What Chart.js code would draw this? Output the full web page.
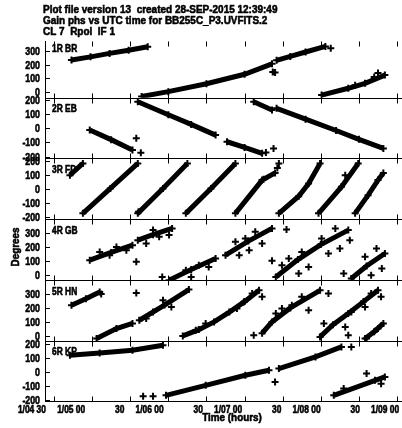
<!DOCTYPE html>
<html>
<head>
<meta charset="utf-8">
<script src="https://cdn.jsdelivr.net/npm/chart.js@4.4.1/dist/chart.umd.min.js"></script>
<style>
html, body { margin: 0; padding: 0; background: #fff; overflow: hidden; }
#wrap { width: 412px; height: 428px; }
</style>
</head>
<body>
<div id="wrap"><canvas id="chart" width="412" height="428"></canvas></div>
<script>
// gain phase (deg) against UTC time (hours of day 1), one panel per antenna
// streaks are runs of solutions, null breaks a run; the *X arrays are stray points

const tBR  = [4.73, 4.98, 5.23, 5.48, 5.73, null, 5.65, 6.0, 6.5, 7.0, 7.36, null, 7.37, 7.40, null, 7.42, 7.6, 7.8, 8.06, null, 8.01, 8.36, 8.58, 8.84];
const pBR  = [232, 255, 280, 303, 328, null, -30, 5, 62, 130, 205, null, 146, 142, null, 230, 258, 290, 330, null, -20, 29, 65, 124];
const tBRX = [8.13, 8.75, 8.70, 8.45];
const pBRX = [317, 139, 110, 50];

const tEB  = [4.97, 5.25, 5.53, null, 5.60, 6.0, 6.3, 6.62, null, 6.77, 7.0, 7.23, null, 7.12, 7.36, null, 7.42, 7.8, 8.2, 8.5, 8.82];
const pEB  = [-12, -80, -154, null, 189, 96, 28, -48, null, -95, -135, -177, null, 189, 130, null, 142, 65, -15, -78, -142];
const tEBX = [5.58, 5.64, 7.28, 7.38];
const pEBX = [-71, -173, -172, -142];

const tFD  = [4.71, 4.88, null, 4.88, 5.24, 5.60, null, 5.60, 5.93, 6.25, null, 6.23, 6.56, 6.88, null, 6.88, 7.23, null, 7.25, 7.40, null, 7.45, 7.71, 7.84, 7.99, null, 7.97, 8.27, 8.49, null, 8.45, 8.62, 8.75, 8.82];
const pFD  = [99, 182, null, -172, 5, 182, null, -172, 5, 182, null, -172, 5, 182, null, -172, 64, null, 70, 115, null, -172, -50, 40, 182, null, -172, 16, 182, null, -172, -43, 64, 115];
const tFDX = [5.61, 7.43, 7.45, 8.32];
const pFDX = [-160, 150, 182, 99];

const tGB  = [4.97, 5.25, 5.53, null, 5.60, 5.80, 6.05, null, 6.01, 6.30, 6.62, null, 6.75, 7.05, 7.36, null, 7.41, 7.70, 8.00, 8.36, null, 8.40, 8.60, 8.84];
const pGB  = [106, 160, 211, null, 246, 285, 329, null, -35, 40, 118, null, 141, 240, 329, null, -12, 110, 215, 317, null, -23, 65, 153];
const tGBX = [5.10, 5.32, 5.23, 5.45, 5.80, 5.88, 6.01, 5.71, 5.58, 5.92, 6.23, 6.40, 6.53, 6.30,
              6.88, 7.01, 7.14, 6.93, 7.06, 7.23, 7.55, 7.36, 7.49, 7.58, 7.71, 7.84, 7.75, 8.01,
              8.10, 8.19, 8.25, 8.38, 8.30, 8.58, 8.73, 8.66, 8.80];
const pGBX = [164, 199, 141, 176, 317, 270, 282, 223, 94, -12, 35, 70, 58, -12,
              235, 258, 305, 141, 176, 223, 322, 101, 70, 118, 12, 58, 164, 258,
              153, 329, 188, 246, 12, 129, 188, 0, 47];

const tHN  = [4.73, 4.92, 5.10, null, 5.06, 5.32, 5.53, null, 5.62, 5.95, 6.27, null, 6.19, 6.40, 6.60, 6.80, 7.00, 7.19, null, 7.23, 7.36, 7.60, 7.99, null, 7.99, 8.16, 8.36, 8.56, 8.75, null, 8.58, 8.70, 8.82];
const pHN  = [219, 265, 314, null, -19, 53, 89, null, 112, 220, 331, null, 0, 45, 100, 170, 245, 326, null, 19, 100, 200, 326, null, -7, 80, 160, 245, 326, null, -19, 30, 89];
const tHNX = [5.12, 5.58, 5.71, 5.80, 5.93, 6.04, 6.36, 6.49, 6.99, 7.10, 7.23, 6.90, 7.12,
              7.41, 7.49, 7.62, 7.75, 7.84, 8.10, 8.32, 8.40, 8.58, 8.66, 8.79, 8.04, 8.36, 8.60, 8.75];
const pHNX = [300, 307, 124, 171, 255, 207, 41, 89, 243, 303, 279, 196, 5,
              160, 196, 219, 279, 184, 303, 64, 171, 207, 303, 279, 89, 5, -19, 53];

const tKP  = [4.71, 5.10, 5.53, 5.93, null, 5.97, 6.49, 7.01, 7.32, null, 7.45, 7.93, 8.27, null, 8.17, 8.84];
const pKP  = [118, 134, 153, 188, null, -164, -94, -23, 12, null, 24, 106, 176, null, -164, -35];
const tKPX = [5.67, 5.80, 7.40, 8.40, 8.60, 8.79, 8.71, 8.30];
const pKPX = [-171, -171, -70, 176, -11, -82, -58, -117];

const panelNames = ['1R BR', '2R EB', '3R FD', '4R GB', '5R HN', '6R KP'];
const panelTimes = [tBR, tEB, tFD, tGB, tHN, tKP];
const panelPhases = [pBR, pEB, pFD, pGB, pHN, pKP];
const strayTimes = [tBRX, tEBX, tFDX, tGBX, tHNX, tKPX];
const strayPhases = [pBRX, pEBX, pFDX, pGBX, pHNX, pKPX];

// plot ranges per panel (deg), tick values and relative panel heights
const panelMin = [-39, -213, -213, -35, -36, -204];
const panelMax = [369, 217, 218, 394, 398, 218];
const upTicks = [0, 100, 200, 300];
const midTicks = [-200, -100, 0, 100, 200];
const panelTicks = [upTicks, midTicks, midTicks, upTicks, upTicks, midTicks];
const panelWeight = [56.7, 60.6, 60.7, 61, 60.7, 60];
const timeTicks = [4.5, 5.0, 5.5, 6.0, 6.5, 7.0, 7.5, 8.0, 8.5, 9.0];

const titleLines = [
  'Plot file version 13  created 28-SEP-2015 12:39:49',
  'Gain phs vs UTC time for BB255C_P3.UVFITS.2',
  'CL 7  Rpol  IF 1'
];

const FONT = '"Liberation Sans", Arial, sans-serif';
const NARROW = 0.8;

const zip = (t, p) => t.map((v, i) => ({ x: v, y: p[i] }));

function timeLabel(h, idx) {
  const day = Math.floor(h / 24) + 1;
  const hh = Math.floor(h % 24 + 1e-6);
  const mm = Math.round((h % 24 - hh) * 60);
  const pad = n => String(n).padStart(2, '0');
  if (idx === 0 || mm === 0) return day + '/' + pad(hh) + ' ' + pad(mm);
  return pad(mm);
}

// heavy helvetica-narrow look: squeeze horizontally and thicken the strokes
function narrowText(ctx, text, x, y, align, size, sx) {
  ctx.save();
  ctx.translate(x, y);
  ctx.scale(sx || NARROW, 1);
  ctx.font = 'bold ' + size + 'px ' + FONT;
  ctx.textAlign = align;
  ctx.lineWidth = 0.6;
  ctx.lineJoin = 'round';
  ctx.fillText(text, 0, 0);
  ctx.strokeText(text, 0, 0);
  ctx.restore();
}

const ids = panelNames.map((_, i) => 'p' + (i + 1));

const datasets = [];
ids.forEach((id, i) => {
  datasets.push({
    label: panelNames[i],
    yAxisID: id,
    data: zip(panelTimes[i], panelPhases[i]),
    showLine: true,
    borderColor: '#000',
    borderWidth: 5,
    pointStyle: 'cross',
    pointRadius: 3.5,
    pointBorderWidth: 2,
    pointBorderColor: '#000',
    spanGaps: false
  });
  datasets.push({
    label: panelNames[i] + ' stray',
    yAxisID: id,
    data: zip(strayTimes[i], strayPhases[i]),
    showLine: false,
    pointStyle: 'cross',
    pointRadius: 3.5,
    pointBorderWidth: 2,
    pointBorderColor: '#000'
  });
});

const scales = {
  x: {
    type: 'linear',
    position: 'bottom',
    min: 4.383,
    max: 9.117,
    afterFit: s => { s.height = 27; },
    afterBuildTicks: s => { s.ticks = timeTicks.map(v => ({ value: v })); },
    grid: { display: false, drawTicks: false },
    border: { display: false },
    ticks: { display: false }
  }
};
// left axes stacked; later-defined axes end up on top
for (let i = ids.length - 1; i >= 0; i--) {
  const tv = panelTicks[i];
  scales[ids[i]] = {
    type: 'linear',
    position: 'left',
    stack: 'panels',
    stackWeight: panelWeight[i],
    min: panelMin[i],
    max: panelMax[i],
    afterFit: s => { s.width = 45; },
    afterBuildTicks: s => { s.ticks = tv.map(v => ({ value: v })); },
    grid: { display: false, drawTicks: false },
    border: { display: true, color: '#000', width: 1 },
    ticks: { display: false }
  };
}

const framePlugin = {
  id: 'frame',
  afterDatasetsDraw(chart) {
    const { ctx, chartArea, scales } = chart;
    const xs = scales.x;
    ctx.save();
    ctx.strokeStyle = '#000';
    ctx.fillStyle = '#000';
    ctx.textBaseline = 'middle';
    ids.forEach((id, i) => {
      const s = scales[id];
      const yb = Math.round(s.bottom) + 0.5;
      const yt = Math.round(s.top) + 0.5;
      ctx.lineWidth = 1;
      ctx.beginPath();
      ctx.moveTo(chartArea.left, yb);
      ctx.lineTo(chartArea.right, yb);
      // x ticks, pointing into the panel from both edges
      xs.ticks.forEach(t => {
        const px = Math.round(xs.getPixelForValue(t.value)) + 0.5;
        ctx.moveTo(px, yb);
        ctx.lineTo(px, yb - 5);
        ctx.moveTo(px, yt);
        ctx.lineTo(px, yt + 5);
      });
      // y ticks
      s.ticks.forEach(t => {
        const py = Math.round(s.getPixelForValue(t.value)) + 0.5;
        ctx.moveTo(chartArea.left, py);
        ctx.lineTo(chartArea.left + 5, py);
      });
      ctx.stroke();
      s.ticks.forEach(t => {
        const py = Math.round(s.getPixelForValue(t.value)) + 0.5;
        narrowText(ctx, String(t.value), chartArea.left - 5, py, 'right', 11);
      });
      narrowText(ctx, panelNames[i], chartArea.left + 7, s.bottom - 49, 'left', 10.5);
    });

    // time labels under the last panel
    ctx.textBaseline = 'top';
    const n = xs.ticks.length;
    xs.ticks.forEach((t, k) => {
      const px = xs.getPixelForValue(t.value);
      narrowText(ctx, timeLabel(t.value, k), px - 8 + 10 * k / (n - 1), chartArea.bottom + 4, 'right', 10.5);
    });

    ctx.textBaseline = 'alphabetic';
    titleLines.forEach((line, k) => narrowText(ctx, line, 43, 13.2 + k * 10.8, 'left', 11.6, 0.86));

    narrowText(ctx, 'Time (hours)', 232, 421, 'center', 11.5, 0.86);
    ctx.translate(19, 247);
    ctx.rotate(-Math.PI / 2);
    narrowText(ctx, 'Degrees', 0, 0, 'center', 11.5, 0.86);
    ctx.restore();
  }
};

new Chart(document.getElementById('chart'), {
  type: 'scatter',
  data: { datasets },
  options: {
    responsive: false,
    animation: false,
    layout: { padding: { top: 41, right: 4, left: 0, bottom: 0 } },
    plugins: { legend: { display: false }, tooltip: { enabled: false } },
    scales
  },
  plugins: [framePlugin]
});
</script>
</body>
</html>
